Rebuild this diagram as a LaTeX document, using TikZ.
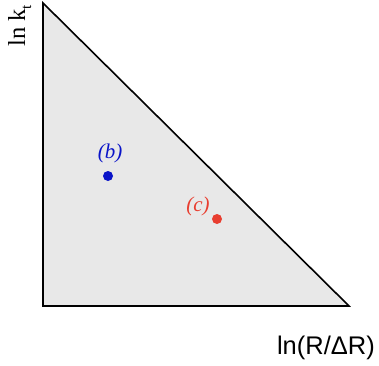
\documentclass[tikz,border=0pt]{standalone}
\usepackage{fontspec}
\newfontfamily\serifrm{Liberation Serif}
\newfontfamily\sansrm{Liberation Sans}
\usepackage{xcolor}
\usetikzlibrary{positioning}

\definecolor{regfill}{RGB}{232,232,232}
\definecolor{ptblue}{RGB}{10,20,200}
\definecolor{ptred}{RGB}{232,62,48}

\begin{document}
\begin{tikzpicture}[
  x=1pt,y=1pt,
  pt/.style={circle,inner sep=0pt,minimum size=10pt},
  lab/.style={font=\serifrm\itshape\fontsize{21}{21}\selectfont,inner sep=0pt}
]
\useasboundingbox (0,0) rectangle (379,365);
% region
\coordinate (top) at (43,362);
\coordinate (orig) at (43,59);
\coordinate (rgt) at (349,59);
\draw[line width=1.6pt,line join=miter,fill=regfill] (top) -- (orig) -- (rgt) -- cycle;
% axes labels
\node[anchor=base west,rotate=90,inner sep=0pt,font=\serifrm\fontsize{24.5}{24.5}\selectfont] (ylab) at (25,318) {ln k\raisebox{-0.25em}{\fontsize{15}{15}\selectfont t}};
\node[anchor=base east,inner sep=0pt,font=\sansrm\fontsize{25.5}{25.5}\selectfont] (xlab) at (375,11) {ln(R/ΔR)};
% points
\node[pt,fill=ptblue] (b) at (108,189) {};
\node[pt,fill=ptred] (c) at (217,146) {};
\node[lab,text=ptblue] (blab) at (110,212) {(b)};
\node[lab,text=ptred] (clab) at (198,159) {(c)};
\end{tikzpicture}
\end{document}
